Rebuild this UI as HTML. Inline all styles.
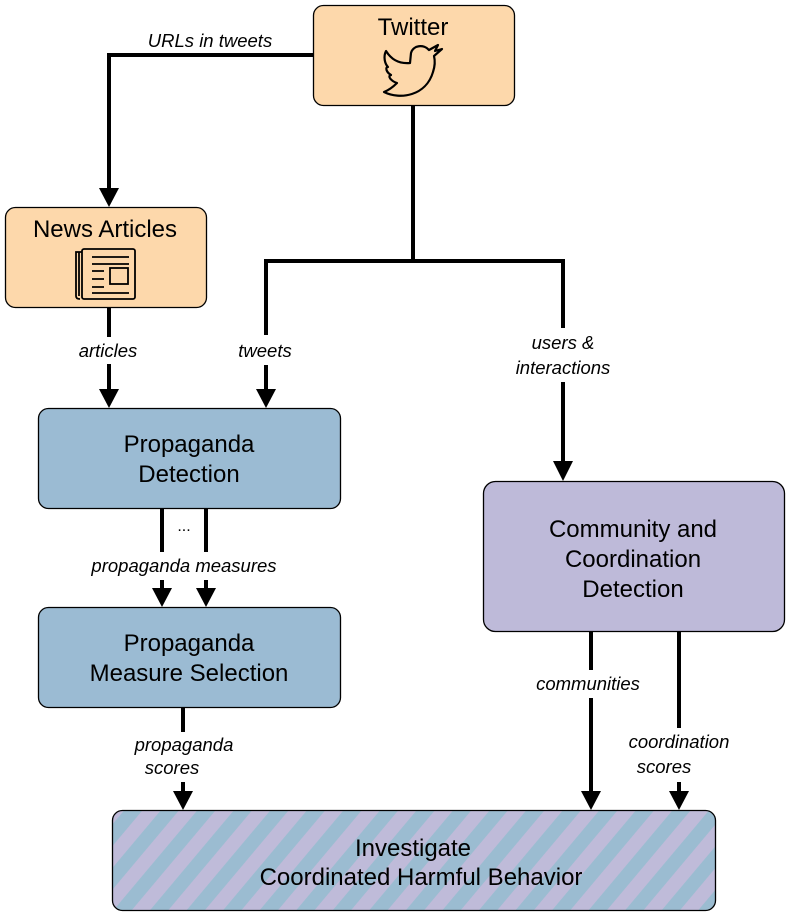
<!DOCTYPE html>
<html><head><style>
html,body{margin:0;padding:0;background:#fff;}
svg{display:block;}
text{font-family:"Liberation Sans",sans-serif;fill:#000;}
.t{font-size:24px;text-anchor:middle;}
.l{font-size:18.5px;font-style:italic;text-anchor:middle;}
</style></head><body>
<svg width="789" height="917" viewBox="0 0 789 917" xmlns="http://www.w3.org/2000/svg">
<defs>
<pattern id="st" patternUnits="userSpaceOnUse" width="28" height="28" patternTransform="rotate(40)">
<rect width="28" height="28" fill="#bfbbd9"/>
<rect width="14" height="28" fill="#9bbcd1"/>
</pattern>
</defs>
<g stroke="#000" stroke-width="4" fill="none">
<path d="M313,55 H109 V190"/>
<path d="M413,105 V261 M266,261 H565 M266,259 V335 M266,365 V390"/>
<path d="M563,261 V328 M563,382 V462"/>
<path d="M109,308 V337 M109,364 V390"/>
<path d="M162,508 V552 M162,580 V590 M206,508 V552 M206,580 V590"/>
<path d="M183,707 V732 M183,782 V792"/>
<path d="M591,632 V670 M591,698 V792"/>
<path d="M679,632 V728 M679,782 V792"/>
</g>
<g fill="#000">
<path d="M99,188 L119,188 L109,207 Z"/>
<path d="M99,389 L119,389 L109,408 Z"/>
<path d="M256,389 L276,389 L266,408 Z"/>
<path d="M553,461 L573,461 L563,481 Z"/>
<path d="M152,588 L172,588 L162,607 Z"/>
<path d="M196,588 L216,588 L206,607 Z"/>
<path d="M173,791 L193,791 L183,810 Z"/>
<path d="M581,791 L601,791 L591,810 Z"/>
<path d="M669,791 L689,791 L679,810 Z"/>
</g>
<g stroke="#000" stroke-width="1.3">
<rect x="313.5" y="5.5" width="201" height="100" rx="10" fill="#fdd8ab"/>
<rect x="5.5" y="207.5" width="201" height="100" rx="10" fill="#fdd8ab"/>
<rect x="38.5" y="408.5" width="302" height="100" rx="10" fill="#9bbbd3"/>
<rect x="38.5" y="607.5" width="302" height="100" rx="10" fill="#9bbbd3"/>
<rect x="483.5" y="481.5" width="301" height="150" rx="12" fill="#bebad9"/>
<rect x="112.5" y="810.5" width="603" height="100" rx="10" fill="url(#st)"/>
</g>
<path d="M384,92 C400,100 426,96 433,72 C435,66 435,60 434,56 L442,49 L435,51 L438,45 L429,50 C424,44 413,45 411,53 L410,63 C398,64 391,59 386,51 C383,57 385,64 388,67 C385,67 386,72 391,75 C387,76 391,81 397,83 C393,87 389,90 384,92 Z" fill="none" stroke="#000" stroke-width="2.2" stroke-linejoin="round"/>
<g fill="none" stroke="#000" stroke-width="1.8">
<rect x="82" y="249" width="53" height="50" rx="2"/>
<path d="M82,252 H76 V296 Q76,299 80,299"/>
<path d="M79,252 V296"/>
<path d="M92,257 H129 M92,264 H129 M92,271 H104 M92,279 H104 M92,287 H104 M92,293 H129"/>
<rect x="110" y="268" width="18" height="16"/>
</g>
<text class="t" x="413" y="35">Twitter</text>
<text class="t" x="105" y="237">News Articles</text>
<text class="t" x="189" y="452">Propaganda</text>
<text class="t" x="189" y="482">Detection</text>
<text class="t" x="189" y="651">Propaganda</text>
<text class="t" x="189" y="681">Measure Selection</text>
<text class="t" x="633" y="537">Community and</text>
<text class="t" x="633" y="567">Coordination</text>
<text class="t" x="633" y="597">Detection</text>
<text class="t" x="413" y="856">Investigate</text>
<text class="t" x="421" y="885">Coordinated Harmful Behavior</text>
<text class="l" x="210" y="47">URLs in tweets</text>
<text class="l" x="108" y="357">articles</text>
<text class="l" x="265" y="357">tweets</text>
<text class="l" x="563" y="349">users &amp;</text>
<text class="l" x="563" y="374">interactions</text>
<text x="184" y="531" style="font-size:16px;text-anchor:middle">...</text>
<text class="l" x="184" y="572">propaganda measures</text>
<text class="l" x="184" y="751">propaganda</text>
<text class="l" x="172" y="774">scores</text>
<text class="l" x="588" y="690">communities</text>
<text class="l" x="679" y="748">coordination</text>
<text class="l" x="664" y="773">scores</text>
</svg>
</body></html>
